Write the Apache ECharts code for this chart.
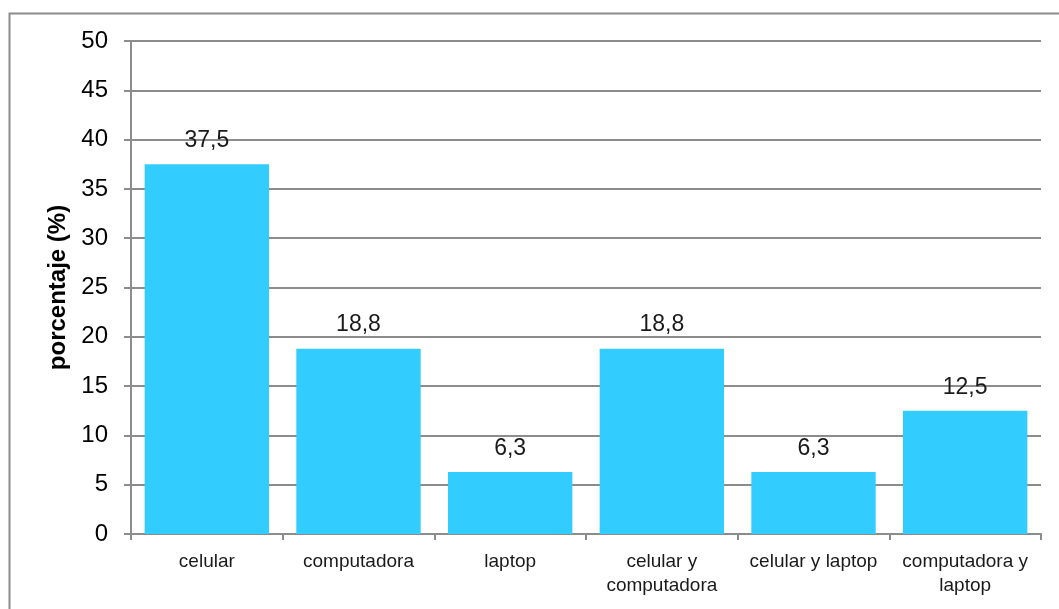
<!DOCTYPE html>
<html>
<head>
<meta charset="utf-8">
<script src="https://cdn.jsdelivr.net/npm/echarts@6/dist/echarts.min.js"></script>
<style>html,body{margin:0;padding:0;background:#fff;}#c{width:1059px;height:609px;}</style>
</head>
<body>
<div id="c"></div>
<script>
const categories = ['celular', 'computadora', 'laptop', 'celular y\ncomputadora', 'celular y laptop', 'computadora y\nlaptop'];
const values = [37.5, 18.8, 6.3, 18.8, 6.3, 12.5];
const yTicks = [0, 5, 10, 15, 20, 25, 30, 35, 40, 45, 50];

const chart = echarts.init(document.getElementById('c'), null, {renderer: 'canvas'});
const font = 'Liberation Sans, Arial, sans-serif';
chart.setOption({
  animation: false,
  graphic: [{
    type: 'rect', left: 7, top: 11, z: -1,
    shape: {width: 1100, height: 700},
    style: {fill: 'none', stroke: '#8c8c8c', lineWidth: 2}
  }],
  grid: {left: 131, right: 18, top: 41, bottom: 75, containLabel: false},
  xAxis: {
    type: 'category',
    data: categories,
    axisLine: {lineStyle: {color: '#8c8c8c', width: 2}},
    axisTick: {show: true, length: 6, lineStyle: {color: '#8c8c8c', width: 2}},
    axisLabel: {color: '#1a1a1a', fontFamily: font, fontSize: 19, lineHeight: 24, margin: 16, interval: 0}
  },
  yAxis: {
    type: 'value',
    min: yTicks[0], max: yTicks[yTicks.length - 1], interval: 5,
    name: 'porcentaje (%)',
    nameLocation: 'middle',
    nameGap: 61,
    nameTextStyle: {color: '#000', fontFamily: font, fontSize: 24, fontWeight: 'bold'},
    axisLine: {show: true, lineStyle: {color: '#8c8c8c', width: 2}},
    axisTick: {show: true, length: 7, lineStyle: {color: '#8c8c8c', width: 2}},
    axisLabel: {color: '#000', fontFamily: font, fontSize: 24, margin: 23},
    splitLine: {show: true, lineStyle: {color: '#8c8c8c', width: 2}}
  },
  series: [{
    type: 'bar',
    data: values,
    barCategoryGap: '18%',
    itemStyle: {color: '#33CCFF'},
    label: {
      show: true, position: 'top', distance: 12,
      color: '#1a1a1a', fontFamily: font, fontSize: 23,
      formatter: p => p.value.toFixed(1).replace('.', ',')
    }
  }]
});
</script>
</body>
</html>
